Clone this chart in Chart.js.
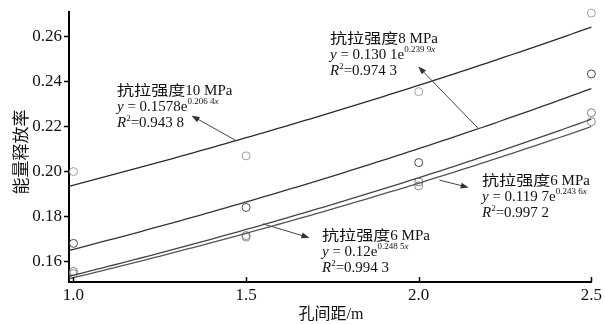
<!DOCTYPE html>
<html>
<head>
<meta charset="utf-8">
<script src="https://cdn.jsdelivr.net/npm/chart.js@4/dist/chart.umd.min.js"></script>
<style>
  html, body { margin: 0; padding: 0; background: #fff; }
  #wrap { width: 605px; height: 324px; }
</style>
</head>
<body>
<div id="wrap"><canvas id="c" width="605" height="324"></canvas></div>
<script>
// Hole spacing (m) and measured energy release rate per tensile strength
const spacing   = [1.0, 1.5, 2.0, 2.5];
const release10 = [0.200, 0.207, 0.2356, 0.2706];
const release8  = [0.168, 0.184, 0.204, 0.2435];
const release6a = [0.1555, 0.1715, 0.1954, 0.2262];
const release6b = [0.1545, 0.1708, 0.1936, 0.2222];

// Exponential fits y = a * e^(b x): 10 MPa, 8 MPa, 6 MPa (0.12), 6 MPa (0.119 7)
const fitA = [0.1578, 0.1301, 0.12, 0.1197];
const fitB = [0.2064, 0.2399, 0.2485, 0.2436];

// Axis ticks
const xTicks = [1.0, 1.5, 2.0, 2.5];
const yTicks = [0.16, 0.18, 0.20, 0.22, 0.24, 0.26];

const X_MIN = 0.987, X_MAX = 2.5;
const Y_MIN = 0.1508, Y_MAX = 0.271;

function fitCurve(a, b) {
  const pts = [];
  const n = 80;
  for (let i = 0; i <= n; i++) {
    const x = X_MIN + (X_MAX - X_MIN) * i / n;
    pts.push({ x: x, y: a * Math.exp(b * x) });
  }
  return pts;
}
function pairs(ys) { return spacing.map((x, i) => ({ x: x, y: ys[i] })); }

const lineColors = ['#2a2a2a', '#333333', '#444444', '#555555'];
const dotColors  = ['#a0a0a0', '#4a4a4a', '#808080', '#8a8a8a'];
const series = [release10, release8, release6a, release6b];

const datasets = [];
fitA.forEach((a, i) => {
  datasets.push({
    type: 'line', data: fitCurve(a, fitB[i]), showLine: true,
    borderColor: lineColors[i], borderWidth: 1.3, pointRadius: 0,
    tension: 0, fill: false, clip: false
  });
});
series.forEach((ys, i) => {
  datasets.push({
    type: 'scatter', data: pairs(ys), showLine: false,
    pointStyle: 'circle', pointRadius: 4, borderWidth: 1,
    borderColor: dotColors[i], backgroundColor: 'rgba(255,255,255,0)', clip: false
  });
});

// Fit labels: text lines and arrow (tail on the curve, head near the text), in data units
const fitLabels = [
  { at: [117, 95],  title: ['抗拉强度', '10 MPa'], a: '0.1578', b: '0.206 4', r2: '0.943 8',
    tail: [1.471, fitA[0] * Math.exp(fitB[0] * 1.471)], head: [1.342, 0.2249] },
  { at: [330, 43],  title: ['抗拉强度', '8 MPa'],  a: '0.130 1', b: '0.239 9', r2: '0.974 3',
    tail: [2.173, fitA[1] * Math.exp(fitB[1] * 2.173)], head: [1.9986, 0.2468] },
  { at: [482, 185], title: ['抗拉强度', '6 MPa'],  a: '0.119 7', b: '0.243 6', r2: '0.997 2',
    tail: [2.06, 0.1962], head: [2.1447, 0.1929] },
  { at: [322, 240], title: ['抗拉强度', '6 MPa'],  a: '0.12', b: '0.248 5', r2: '0.994 3',
    tail: [1.5487, 0.1767], head: [1.6834, 0.1705] }
];

const SERIF = '"Liberation Serif", "DejaVu Serif", serif';
const CJK = '"Noto Sans CJK SC", sans-serif';
const fonts = {
  cjk:   { f: '14px ' + CJK, sx: 1.22, dy: 0 },
  rm:    { f: '15px ' + SERIF, sx: 1, dy: 0 },
  it:    { f: 'italic 15px ' + SERIF, sx: 1, dy: 0 },
  sup:   { f: '9px ' + SERIF, sx: 1, dy: -7 },
  supit: { f: 'italic 9px ' + SERIF, sx: 1, dy: -7 },
  r2:    { f: '9px ' + SERIF, sx: 1, dy: -6 }
};

function drawRun(ctx, x, y, parts) {
  let cx = x;
  parts.forEach(p => {
    const st = fonts[p[0]];
    ctx.save();
    ctx.font = st.f;
    ctx.translate(cx, y + st.dy);
    ctx.scale(st.sx, 1);
    ctx.fillText(p[1], 0, 0);
    const w = ctx.measureText(p[1]).width * st.sx;
    ctx.restore();
    cx += w;
  });
}

function arrow(ctx, x1, y1, x2, y2) {
  const ang = Math.atan2(y2 - y1, x2 - x1);
  const L = 8, W = 3;
  ctx.beginPath();
  ctx.moveTo(x1, y1);
  ctx.lineTo(x2 - Math.cos(ang) * (L - 1), y2 - Math.sin(ang) * (L - 1));
  ctx.stroke();
  ctx.beginPath();
  ctx.moveTo(x2, y2);
  ctx.lineTo(x2 - L * Math.cos(ang) + W * Math.sin(ang), y2 - L * Math.sin(ang) - W * Math.cos(ang));
  ctx.lineTo(x2 - L * Math.cos(ang) - W * Math.sin(ang), y2 - L * Math.sin(ang) + W * Math.cos(ang));
  ctx.closePath();
  ctx.fill();
}

const decor = {
  id: 'decor',
  afterDraw(chart) {
    const ctx = chart.ctx;
    const xs = chart.scales.x, ys = chart.scales.y;
    const area = chart.chartArea;
    ctx.save();
    // inward x ticks
    ctx.strokeStyle = '#000';
    ctx.lineWidth = 1.5;
    xTicks.forEach(v => {
      const px = Math.round(xs.getPixelForValue(v)) + 0.5;
      ctx.beginPath();
      ctx.moveTo(px, area.bottom);
      ctx.lineTo(px, area.bottom - 5);
      ctx.stroke();
    });

    // fit labels and arrows
    ctx.fillStyle = '#111';
    ctx.textBaseline = 'alphabetic';
    ctx.textAlign = 'left';
    fitLabels.forEach(l => {
      const [x, y] = l.at;
      drawRun(ctx, x, y, [['cjk', l.title[0]], ['rm', l.title[1]]]);
      drawRun(ctx, x, y + 16, [['it', 'y'], ['rm', ' = ' + l.a + 'e'], ['sup', l.b], ['supit', 'x']]);
      drawRun(ctx, x, y + 32, [['it', 'R'], ['r2', '2'], ['rm', '=' + l.r2]]);
    });
    ctx.strokeStyle = '#444';
    ctx.fillStyle = '#333';
    ctx.lineWidth = 1;
    fitLabels.forEach(l => {
      arrow(ctx,
        xs.getPixelForValue(l.tail[0]), ys.getPixelForValue(l.tail[1]),
        xs.getPixelForValue(l.head[0]), ys.getPixelForValue(l.head[1]));
    });

    // axis titles
    ctx.fillStyle = '#111';
    ctx.textAlign = 'center';
    ctx.textBaseline = 'middle';
    ctx.save();
    ctx.translate(21, 152);
    ctx.rotate(-Math.PI / 2);
    ctx.font = '17px ' + CJK;
    ctx.fillText('能量释放率', 0, 0);
    ctx.restore();

    ctx.textAlign = 'left';
    ctx.textBaseline = 'alphabetic';
    ctx.font = '16px ' + CJK;
    const t1 = '孔间距';
    const w1 = ctx.measureText(t1).width;
    ctx.font = '16px ' + SERIF;
    const t2 = '/m';
    const w2 = ctx.measureText(t2).width;
    const sx = 331 - (w1 + w2) / 2;
    ctx.font = '16px ' + CJK;
    ctx.fillText(t1, sx, 319);
    ctx.font = '16px ' + SERIF;
    ctx.fillText(t2, sx + w1, 319);
    ctx.restore();
  }
};

new Chart(document.getElementById('c'), {
  type: 'scatter',
  data: { datasets: datasets },
  options: {
    responsive: false,
    animation: false,
    events: [],
    layout: { padding: { left: 0, top: 8, right: 8, bottom: 0 } },
    plugins: { legend: { display: false }, tooltip: { enabled: false } },
    scales: {
      x: {
        type: 'linear', min: X_MIN, max: X_MAX,
        afterFit: s => { s.height = 42; },
        afterBuildTicks: s => { s.ticks = xTicks.map(v => ({ value: v })); },
        border: { display: true, color: '#000', width: 2 },
        grid: { display: true, drawOnChartArea: false, drawTicks: false },
        ticks: {
          padding: 3, color: '#111',
          font: { family: SERIF, size: 17 },
          callback: v => v.toFixed(1)
        }
      },
      y: {
        type: 'linear', min: Y_MIN, max: Y_MAX,
        afterFit: s => { s.width = 69; },
        afterBuildTicks: s => { s.ticks = yTicks.map(v => ({ value: v })); },
        border: { display: true, color: '#000', width: 2 },
        grid: { display: true, drawOnChartArea: false, drawTicks: true, tickLength: 5, color: '#000', tickWidth: 1.5 },
        ticks: {
          padding: 2, color: '#111',
          font: { family: SERIF, size: 17 },
          callback: v => v.toFixed(2)
        }
      }
    }
  },
  plugins: [decor]
});
</script>
</body>
</html>
